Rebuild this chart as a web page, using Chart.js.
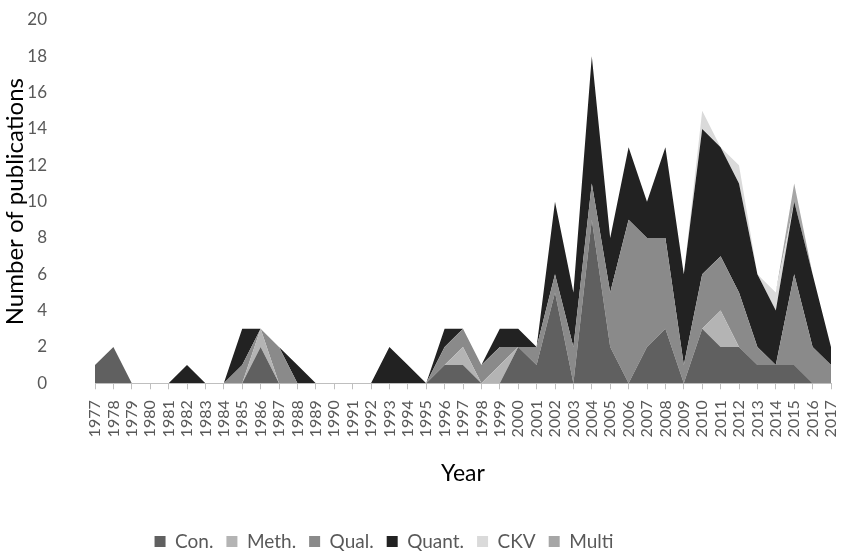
<!DOCTYPE html>
<html>
<head>
<meta charset="utf-8">
<script src="https://cdn.jsdelivr.net/npm/chart.js@4"></script>
<style>
  html, body { margin: 0; padding: 0; background: #fff; }
  #wrap { width: 841px; height: 557px; position: relative; }
</style>
</head>
<body>
<div id="wrap"><canvas id="chart"></canvas></div>
<script>
// categories
const years = ['1977','1978','1979','1980','1981','1982','1983','1984','1985','1986',
               '1987','1988','1989','1990','1991','1992','1993','1994','1995','1996',
               '1997','1998','1999','2000','2001','2002','2003','2004','2005','2006',
               '2007','2008','2009','2010','2011','2012','2013','2014','2015','2016','2017'];

// series (stacked bottom -> top)
const con   = [1,2,0,0,0,0,0,0,0,2, 0,0,0,0,0,0,0,0,0,1, 1,0,0,2,1,5,0,9,2,0, 2,3,0,3,2,2,1,1,1,0,0];
const meth  = [0,0,0,0,0,0,0,0,0,1, 0,0,0,0,0,0,0,0,0,0, 1,0,1,0,0,0,0,0,0,0, 0,0,0,0,2,0,0,0,0,0,0];
const qual  = [0,0,0,0,0,0,0,0,1,0, 2,0,0,0,0,0,0,0,0,1, 1,1,1,0,1,1,2,2,3,9, 6,5,1,3,3,3,1,0,5,2,1];
const quant = [0,0,0,0,0,1,0,0,2,0, 0,1,0,0,0,0,2,1,0,1, 0,0,1,1,0,4,3,7,3,4, 2,5,5,8,6,6,4,3,4,4,1];
const ckv   = [0,0,0,0,0,0,0,0,0,0, 0,0,0,0,0,0,0,0,0,0, 0,0,0,0,0,0,0,0,0,0, 0,0,0,1,0,1,0,1,0,0,0];
const multi = [0,0,0,0,0,0,0,0,0,0, 0,0,0,0,0,0,0,0,0,0, 0,0,0,0,0,0,0,0,0,0, 0,0,0,0,0,0,0,0,1,0,0];

const yTicks = [0, 2, 4, 6, 8, 10, 12, 14, 16, 18, 20];

const FONT = 'Lato, "Open Sans", sans-serif';

function area(label, data, color, fill) {
    return {
        label: label,
        data: data,
        backgroundColor: color,
        borderColor: color,
        borderWidth: 0,
        pointRadius: 0,
        pointHoverRadius: 0,
        tension: 0,
        fill: fill
    };
}

// the legend in the original sits a bit left of the page centre and low down
const legendShift = {
    id: 'legendShift',
    afterLayout(chart) {
        chart.legend.left -= 63;
        chart.legend.top += 4;
    }
};

new Chart(document.getElementById('chart'), {
    type: 'line',
    data: {
        labels: years,
        datasets: [
            area('Con.',   con,   '#606060', 'origin'),
            area('Meth.',  meth,  '#b4b4b4', '-1'),
            area('Qual.',  qual,  '#8a8a8a', '-1'),
            area('Quant.', quant, '#222222', '-1'),
            area('CKV',    ckv,   '#dadada', '-1'),
            area('Multi',  multi, '#a6a6a6', '-1')
        ]
    },
    plugins: [legendShift],
    options: {
        responsive: true,
        maintainAspectRatio: false,
        animation: false,
        layout: { padding: { top: 20, right: 10, left: 0, bottom: 0 } },
        plugins: {
            tooltip: { enabled: false },
            legend: {
                position: 'bottom',
                labels: {
                    boxWidth: 11,
                    boxHeight: 11,
                    padding: 13,
                    color: '#595959',
                    font: { family: FONT, size: 19 }
                }
            }
        },
        scales: {
            x: {
                offset: false,
                afterFit: (scale) => { scale.paddingLeft = 0; scale.paddingRight = 10; },
                grid: {
                    drawOnChartArea: false,
                    drawTicks: true,
                    tickLength: 6,
                    color: '#bfbfbf'
                },
                border: { display: true, color: '#bfbfbf', width: 1 },
                ticks: {
                    autoSkip: false,
                    minRotation: 90,
                    maxRotation: 90,
                    padding: 11,
                    color: '#595959',
                    font: { family: FONT, size: 16 }
                },
                title: {
                    display: true,
                    text: 'Year',
                    color: '#000',
                    font: { family: FONT, size: 23 },
                    padding: { top: 11, bottom: 28 }
                }
            },
            y: {
                stacked: true,
                min: 0,
                max: 20,
                afterBuildTicks: (scale) => { scale.ticks = yTicks.map(v => ({ value: v })); },
                afterFit: (scale) => {
                    scale.width = 95;
                    scale.paddingTop = 10;
                    scale.paddingBottom = 10;
                },
                grid: { display: false, drawTicks: false },
                border: { display: false },
                ticks: {
                    padding: 48,
                    color: '#595959',
                    font: { family: FONT, size: 17 }
                },
                title: {
                    display: true,
                    text: 'Number of publications',
                    color: '#000',
                    font: { family: FONT, size: 24 },
                    padding: { top: 1, bottom: 0 }
                }
            }
        }
    }
});
</script>
</body>
</html>
